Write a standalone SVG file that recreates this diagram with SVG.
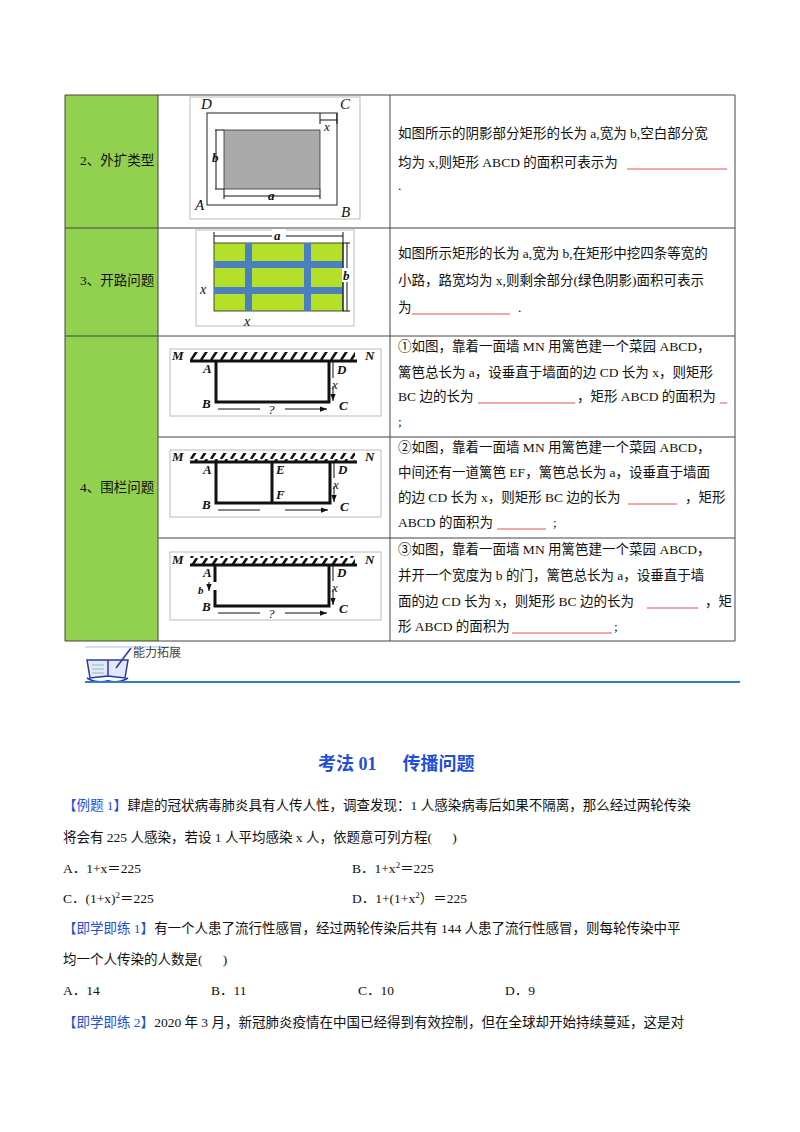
<svg xmlns="http://www.w3.org/2000/svg" width="800" height="1132" viewBox="0 0 800 1132">
<style>
.t{font-family:"Liberation Serif","Noto Sans CJK SC",serif;font-size:13.5px;fill:#111;white-space:pre}
.f{font-family:"Liberation Serif",serif;font-style:italic;font-weight:bold;font-size:13px;fill:#111}
.ln{stroke:#444;stroke-width:1;fill:none}
.red{stroke:#e05050;stroke-width:1}
.bx{fill:#fff;stroke:#bbb;stroke-width:1}
.k{stroke:#111;stroke-width:3;fill:none}
.th{stroke:#111;stroke-width:1;fill:none}
</style>
<defs>
<marker id="ar" viewBox="0 0 8 8" refX="8" refY="4" markerWidth="7" markerHeight="7" orient="auto-start-reverse"><path d="M0,1 L8,4 L0,7z" fill="#111"/></marker>
<pattern id="h" width="10" height="9" patternUnits="userSpaceOnUse"><path d="M1,9 L7,0" stroke="#111" stroke-width="2.6"/></pattern>
</defs>
<rect width="800" height="1132" fill="#fff"/>
<g id="table">
<rect x="65" y="95" width="93" height="546" fill="#92d050"/>
<path class="ln" d="M65,95H735V641H65Z M158,95V641 M390,95V641 M65,228H735 M65,336H735 M158,437H735 M158,538H735"/>
<text class="t" x="80" y="165">2、外扩类型</text>
<text class="t" x="80" y="285">3、开路问题</text>
<text class="t" x="80" y="492">4、围栏问题</text>
<text class="t" x="398" y="138">如图所示的阴影部分矩形的长为 a,宽为 b,空白部分宽</text>
<text class="t" x="398" y="167">均为 x,则矩形 ABCD 的面积可表示为</text>
<line class="red" x1="627" y1="169" x2="727" y2="169"/>
<text class="t" x="398" y="190">.</text>
<text class="t" x="398" y="258">如图所示矩形的长为 a,宽为 b,在矩形中挖四条等宽的</text>
<text class="t" x="398" y="285">小路，路宽均为 x,则剩余部分(绿色阴影)面积可表示</text>
<text class="t" x="398" y="312">为</text><line class="red" x1="412" y1="314" x2="510" y2="314"/><text class="t" x="518" y="312">.</text>
<text class="t" x="398" y="351">①如图，靠着一面墙 MN 用篱笆建一个菜园 ABCD，</text>
<text class="t" x="398" y="377">篱笆总长为 a，设垂直于墙面的边 CD 长为 x，则矩形</text>
<text class="t" x="398" y="401">BC 边的长为</text><line class="red" x1="478" y1="403" x2="575" y2="403"/><text class="t" x="577" y="401">，矩形 ABCD 的面积为</text><line class="red" x1="720" y1="403" x2="727" y2="403"/>
<text class="t" x="398" y="426">;</text>
<text class="t" x="398" y="452">②如图，靠着一面墙 MN 用篱笆建一个菜园 ABCD，</text>
<text class="t" x="398" y="477">中间还有一道篱笆 EF，篱笆总长为 a，设垂直于墙面</text>
<text class="t" x="398" y="502">的边 CD 长为 x，则矩形 BC 边的长为</text><line class="red" x1="628" y1="504" x2="677" y2="504"/><text class="t" x="685" y="502">，矩形</text>
<text class="t" x="398" y="527">ABCD 的面积为</text><line class="red" x1="497" y1="529" x2="546" y2="529"/><text class="t" x="553" y="527">;</text>
<text class="t" x="398" y="554">③如图，靠着一面墙 MN 用篱笆建一个菜园 ABCD，</text>
<text class="t" x="398" y="580">并开一个宽度为 b 的门，篱笆总长为 a，设垂直于墙</text>
<text class="t" x="398" y="606">面的边 CD 长为 x，则矩形 BC 边的长为</text><line class="red" x1="647" y1="608" x2="698" y2="608"/><text class="t" x="705" y="606">，矩</text>
<text class="t" x="398" y="631">形 ABCD 的面积为</text><line class="red" x1="512" y1="633" x2="612" y2="633"/><text class="t" x="614" y="631">;</text>
</g>
<g id="fig1">
<rect class="bx" x="190" y="97" width="170" height="122"/>
<rect x="207" y="113" width="130" height="92" fill="none" stroke="#222" stroke-width="1"/>
<rect x="224" y="130" width="96" height="59" fill="#aaa" stroke="#333" stroke-width="0.8"/>
<text class="f" x="201" y="109" style="font-weight:normal;font-size:15px">D</text>
<text class="f" x="340" y="109" style="font-weight:normal;font-size:15px">C</text>
<text class="f" x="195" y="210" style="font-weight:normal;font-size:15px">A</text>
<text class="f" x="341" y="217" style="font-weight:normal;font-size:15px">B</text>
<path class="th" d="M320,113V124 M337,113V124 M320,120H337 M216,130V189 M224,189H215 M224,130H215 M224,189V199 M320,189V199 M224,196H320"/>
<text class="f" x="324" y="131" style="font-weight:normal">x</text>
<text class="f" x="212" y="162">b</text>
<text class="f" x="268" y="200">a</text>
</g>
<g id="fig2">
<rect class="bx" x="196" y="230" width="158" height="96"/>
<rect x="214" y="243" width="129" height="68" fill="#b5e02a" stroke="#222" stroke-width="0.8"/>
<path fill="#4a7fc0" d="M245,243h7v68h-7z M304,243h7v68h-7z M214,261h129v7h-129z M214,287h129v7h-129z"/>
<path class="th" d="M214,232V243 M343,232V311 M343,243H350 M343,311H350 M347,243V311 M214,236H343"/>
<rect x="272" y="229" width="14" height="12" fill="#fff"/>
<text class="f" x="274" y="240">a</text>
<rect x="342" y="268" width="10" height="14" fill="#fff"/>
<text class="f" x="343" y="280">b</text>
<text class="f" x="200" y="294" style="font-weight:normal;font-size:14px">x</text>
<text class="f" x="244" y="326" style="font-weight:normal;font-size:14px">x</text>
</g>
<g id="fig3">
<rect class="bx" x="170" y="349" width="211" height="67"/>
<rect x="190" y="352" width="165" height="9" fill="url(#h)"/>
<path class="k" d="M190,361H357 M216,361V402H329V361"/>
<text class="f" x="172" y="360">M</text><text class="f" x="365" y="360">N</text>
<text class="f" x="203" y="373">A</text><text class="f" x="202" y="408">B</text>
<text class="f" x="337" y="374">D</text><text class="f" x="339" y="410">C</text>
<text class="f" x="332" y="389" style="font-weight:normal">x</text>
<path class="th" d="M333,378V362 M333,386V401" marker-end="url(#ar)"/>
<path class="th" d="M260,409H218 M285,409H327" marker-end="url(#ar)"/>
<text class="f" x="268" y="414" style="font-weight:normal">?</text>
</g>
<g id="fig4">
<rect class="bx" x="170" y="450" width="211" height="67"/>
<rect x="190" y="453" width="165" height="9" fill="url(#h)"/>
<path class="k" d="M190,462H357 M216,462V503H330V462 M272,462V503"/>
<text class="f" x="172" y="461">M</text><text class="f" x="365" y="461">N</text>
<text class="f" x="203" y="474">A</text><text class="f" x="202" y="509">B</text>
<text class="f" x="276" y="474">E</text><text class="f" x="276" y="499">F</text>
<text class="f" x="338" y="474">D</text><text class="f" x="340" y="511">C</text>
<text class="f" x="333" y="489" style="font-weight:normal">x</text>
<path class="th" d="M334,478V463 M334,486V502" marker-end="url(#ar)"/>
<path class="th" d="M260,510H218 M285,510H328" marker-end="url(#ar)"/>
</g>
<g id="fig5">
<rect class="bx" x="170" y="552" width="211" height="68"/>
<rect x="190" y="556" width="165" height="9" fill="url(#h)"/>
<path class="k" d="M190,565H357 M215,565V582 M215,590V606H329V565"/>
<text class="f" x="172" y="564">M</text><text class="f" x="365" y="564">N</text>
<text class="f" x="203" y="577">A</text><text class="f" x="202" y="611">B</text>
<text class="f" x="198" y="594" style="font-size:11px">b</text>
<path class="th" d="M209,586V582 M209,587V591" marker-end="url(#ar)"/>
<text class="f" x="337" y="577">D</text><text class="f" x="339" y="613">C</text>
<text class="f" x="332" y="592" style="font-weight:normal">x</text>
<path class="th" d="M333,581V566 M333,589V605" marker-end="url(#ar)"/>
<path class="th" d="M260,613H218 M285,613H327" marker-end="url(#ar)"/>
<text class="f" x="268" y="618" style="font-weight:normal">?</text>
</g>
<g id="header">
<path d="M87,660 L90,678 L108,676 L108,660 Z M108,660 L108,676 L125,678 L128,660 Z" fill="#e4e8ff" stroke="#2a3aa0" stroke-width="1.5"/>
<path d="M87,678 Q97,684 108,681 Q118,684 128,678" fill="none" stroke="#2a3aa0" stroke-width="2"/>
<path d="M92,665h12 M92,669h12 M92,673h12" stroke="#7fc9a0" stroke-width="1"/>
<path d="M131,648 L116,668" stroke="#2a3aa0" stroke-width="1.5"/>
<line x1="85" y1="647" x2="175" y2="647" stroke="#9cc2ea" stroke-width="1"/>
<text x="133" y="657" style="font-family:'Noto Sans CJK SC',sans-serif;font-size:12px;fill:#444">能力拓展</text>
<line x1="85" y1="682" x2="740" y2="682" stroke="#2a7fd0" stroke-width="2"/>
</g>
<g id="body">
<text x="318" y="770" style="font-family:'Liberation Serif','Noto Sans CJK SC',serif;font-size:18px;font-weight:bold;fill:#1f4fd8">考法 01<tspan dx="26">传播问题</tspan></text>
<text class="t" x="63" y="810"><tspan style="fill:#1f4fd8">【例题 1】</tspan>肆虐的冠状病毒肺炎具有人传人性，调查发现：1 人感染病毒后如果不隔离，那么经过两轮传染</text>
<text class="t" x="63" y="842">将会有 225 人感染，若设 1 人平均感染 x 人，依题意可列方程(      )</text>
<text class="t" x="63" y="873">A．1+x＝225</text>
<text class="t" x="352" y="873">B．1+x<tspan dy="-5" font-size="9">2</tspan><tspan dy="5">＝225</tspan></text>
<text class="t" x="63" y="903">C．(1+x)<tspan dy="-5" font-size="9">2</tspan><tspan dy="5">＝225</tspan></text>
<text class="t" x="352" y="903">D．1+(1+x<tspan dy="-5" font-size="9">2</tspan><tspan dy="5">）＝225</tspan></text>
<text class="t" x="63" y="933"><tspan style="fill:#1f4fd8">【即学即练 1】</tspan>有一个人患了流行性感冒，经过两轮传染后共有 144 人患了流行性感冒，则每轮传染中平</text>
<text class="t" x="63" y="964">均一个人传染的人数是(      )</text>
<text class="t" x="63" y="995">A．14</text><text class="t" x="211" y="995">B．11</text><text class="t" x="358" y="995">C．10</text><text class="t" x="505" y="995">D．9</text>
<text class="t" x="63" y="1027"><tspan style="fill:#1f4fd8">【即学即练 2】</tspan>2020 年 3 月，新冠肺炎疫情在中国已经得到有效控制，但在全球却开始持续蔓延，这是对</text>
</g>
</svg>
